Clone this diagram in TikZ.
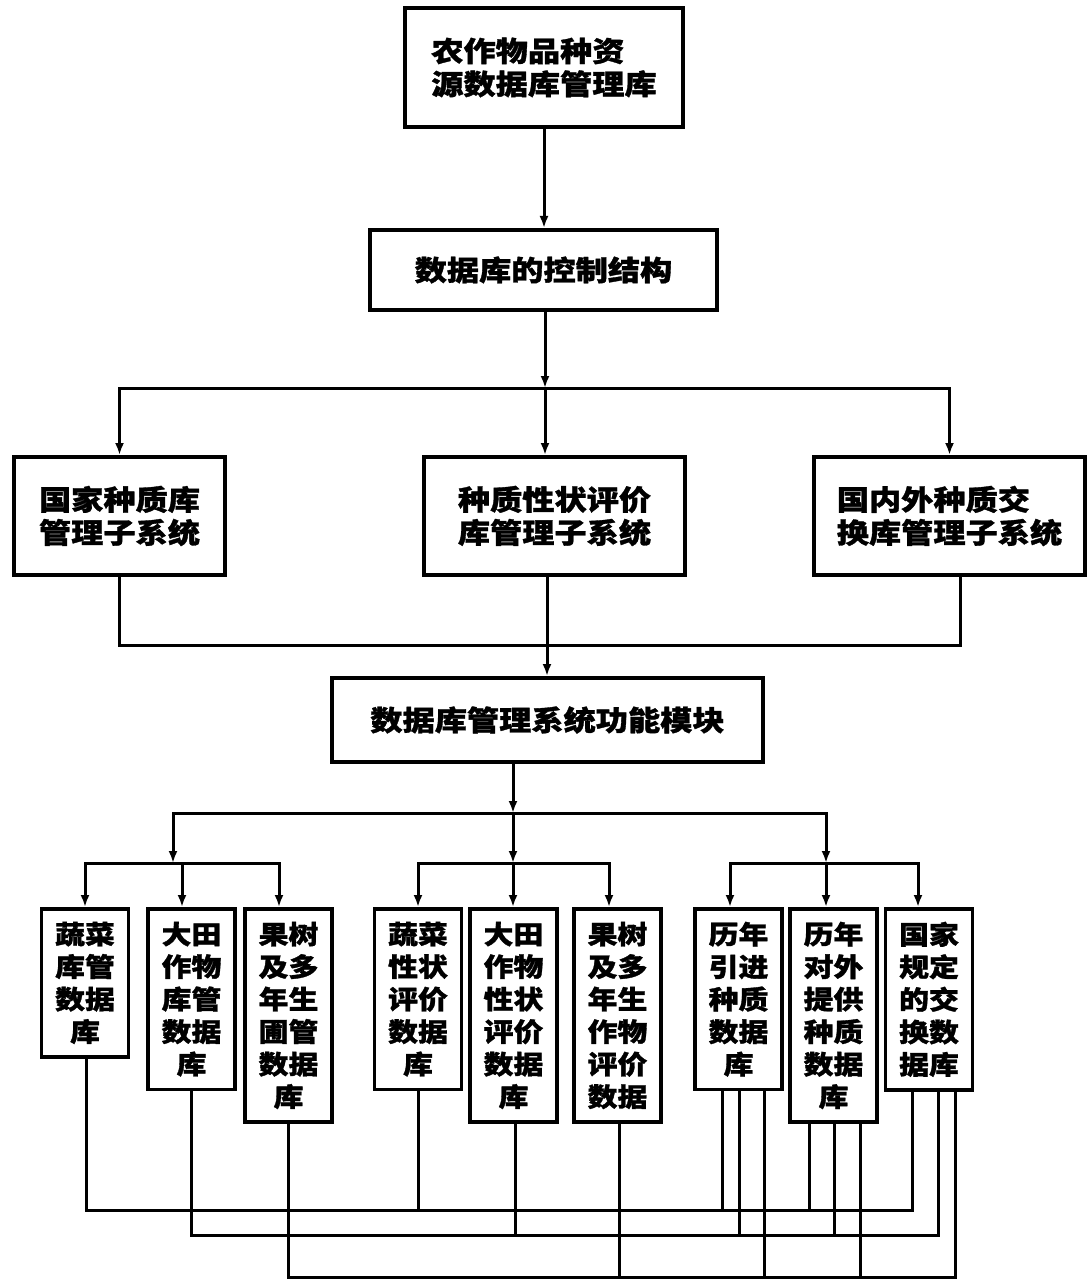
\documentclass[tikz,border=0pt]{standalone}
\usepackage{fontspec}
\newfontfamily\cjk{Noto Sans CJK SC}[FakeStretch=1.15,BoldFeatures={FakeBold=1.2}]
\usetikzlibrary{arrows.meta,calc}
\tikzset{
  kuang/.style={draw,line width=4pt,inner sep=0pt,align=left,
    font=\cjk\bfseries\fontsize{28}{33}\selectfont},
  shuju/.style={draw,line width=3.5pt,anchor=north,minimum width=87pt,
    inner xsep=0pt,inner ysep=13pt,align=center,
    font=\cjk\bfseries\fontsize{26}{32.5}\selectfont},
  xian/.style={line width=3pt,line cap=rect},
  jian/.style={line width=3pt,-{Latex[length=12pt,width=9pt]}},
}
\begin{document}
\begin{tikzpicture}[x=1pt,y=-1pt]
    \useasboundingbox (0,0) rectangle (1087,1281);

    % 上层
    \node[kuang,minimum width=278pt,minimum height=119pt] (zongku) at (544,67.5) {农作物品种资\\源数据库管理库};
    \node[kuang,minimum width=347pt,minimum height=80pt] (kongzhi) at (543.5,270) {数据库的控制结构};
    \draw[jian] (zongku.south) -- (zongku.south |- kongzhi.north);

    % 三个子系统
    \node[kuang,minimum width=211pt,minimum height=118pt] (zi1) at (119.5,516) {国家种质库\\管理子系统};
    \node[kuang,minimum width=261pt,minimum height=118pt] (zi2) at (554.5,516) {种质性状评价\\库管理子系统};
    \node[kuang,minimum width=271pt,minimum height=118pt] (zi3) at (949.5,516) {国内外种质交\\换库管理子系统};

    \coordinate (fen1) at (545,388);
    \draw[jian] (fen1 |- kongzhi.south) -- (fen1);
    \draw[xian] (zi1.north |- fen1) -- (zi3.north |- fen1);
    \draw[jian] (zi1.north |- fen1) -- (zi1.north);
    \draw[jian] (fen1) -- (fen1 |- zi2.north);
    \draw[jian] (zi3.north |- fen1) -- (zi3.north);

    % 功能模块
    \node[kuang,minimum width=431pt,minimum height=84pt] (mokuai) at (547.5,720) {数据库管理系统功能模块};

    \coordinate (he1) at (547,645);
    \draw[xian] (zi1.south) |- (he1) -| ($(zi3.south)+(11,0)$);
    \draw[xian] (zi2.south -| he1) -- (he1);
    \draw[jian] (he1) -- (he1 |- mokuai.north);

    % 九个数据库
    \foreach \n/\x/\t in {
        db1/85/蔬菜\\库管\\数据\\库,
        db2/191.5/大田\\作物\\库管\\数据\\库,
        db3/288.5/果树\\及多\\年生\\圃管\\数据\\库,
        db4/418/蔬菜\\性状\\评价\\数据\\库,
        db5/513.5/大田\\作物\\性状\\评价\\数据\\库,
        db6/617.5/果树\\及多\\年生\\作物\\评价\\数据,
        db7/738.5/历年\\引进\\种质\\数据\\库,
        db8/833.5/历年\\对外\\提供\\种质\\数据\\库,
        db9/929/国家\\规定\\的交\\换数\\据库}{
      \node[shuju] (\n) at (\x,907) {\t};
    }

    % 分组
    \coordinate (fen2) at (513,813);
    \coordinate (zu1) at (173,863);
    \coordinate (zu2) at (513,863);
    \coordinate (zu3) at (826,863);
    \draw[jian] (mokuai.south -| fen2) -- (fen2);
    \draw[xian] (zu1 |- fen2) -- (zu3 |- fen2);
    \foreach \z in {zu1,zu2,zu3}{
      \draw[jian] (\z |- fen2) -- (\z);
    }
    \draw[xian] (db1.north |- zu1) -- ($(db3.north |- zu1)+(-9.5,0)$);
    \draw[xian] (db4.north |- zu2) -- ($(db6.north |- zu2)+(-8.5,0)$);
    \draw[xian] ($(db7.north |- zu3)+(-8.5,0)$) -- ($(db9.north |- zu3)+(-11,0)$);
    \foreach \d/\dx/\z in {db1/0/zu1, db2/-9.5/zu1, db3/-9.5/zu1,
        db4/0/zu2, db5/-0.5/zu2, db6/-8.5/zu2,
        db7/-8.5/zu3, db8/-7.5/zu3, db9/-11/zu3}{
      \draw[jian] ($(\d.north |- \z)+(\dx,0)$) -- ($(\d.north)+(\dx,0)$);
    }

    % 底部连线
    \coordinate (xianA) at (86,1210);
    \coordinate (xianB) at (191,1235);
    \coordinate (xianC) at (288,1277);
    \draw[xian] (xianA) -- ($(db9.south |- xianA)+(-17,0)$);
    \draw[xian] (xianB) -- ($(db9.south |- xianB)+(9,0)$);
    \draw[xian] (xianC) -- ($(db9.south |- xianC)+(26,0)$);
    \foreach \d/\dx/\b in {
        db1/1/A, db4/0/A, db7/-16.5/A, db8/-24.5/A, db9/-17/A,
        db2/-0.5/B, db5/1.5/B, db7/0.5/B, db8/0.5/B, db9/9/B,
        db3/-0.5/C, db6/1.5/C, db7/25.5/C, db8/26.5/C, db9/26/C}{
      \draw[xian] ($(\d.south)+(\dx,0)$) -- ($(\d.south |- xian\b)+(\dx,0)$);
    }
\end{tikzpicture}
\end{document}
